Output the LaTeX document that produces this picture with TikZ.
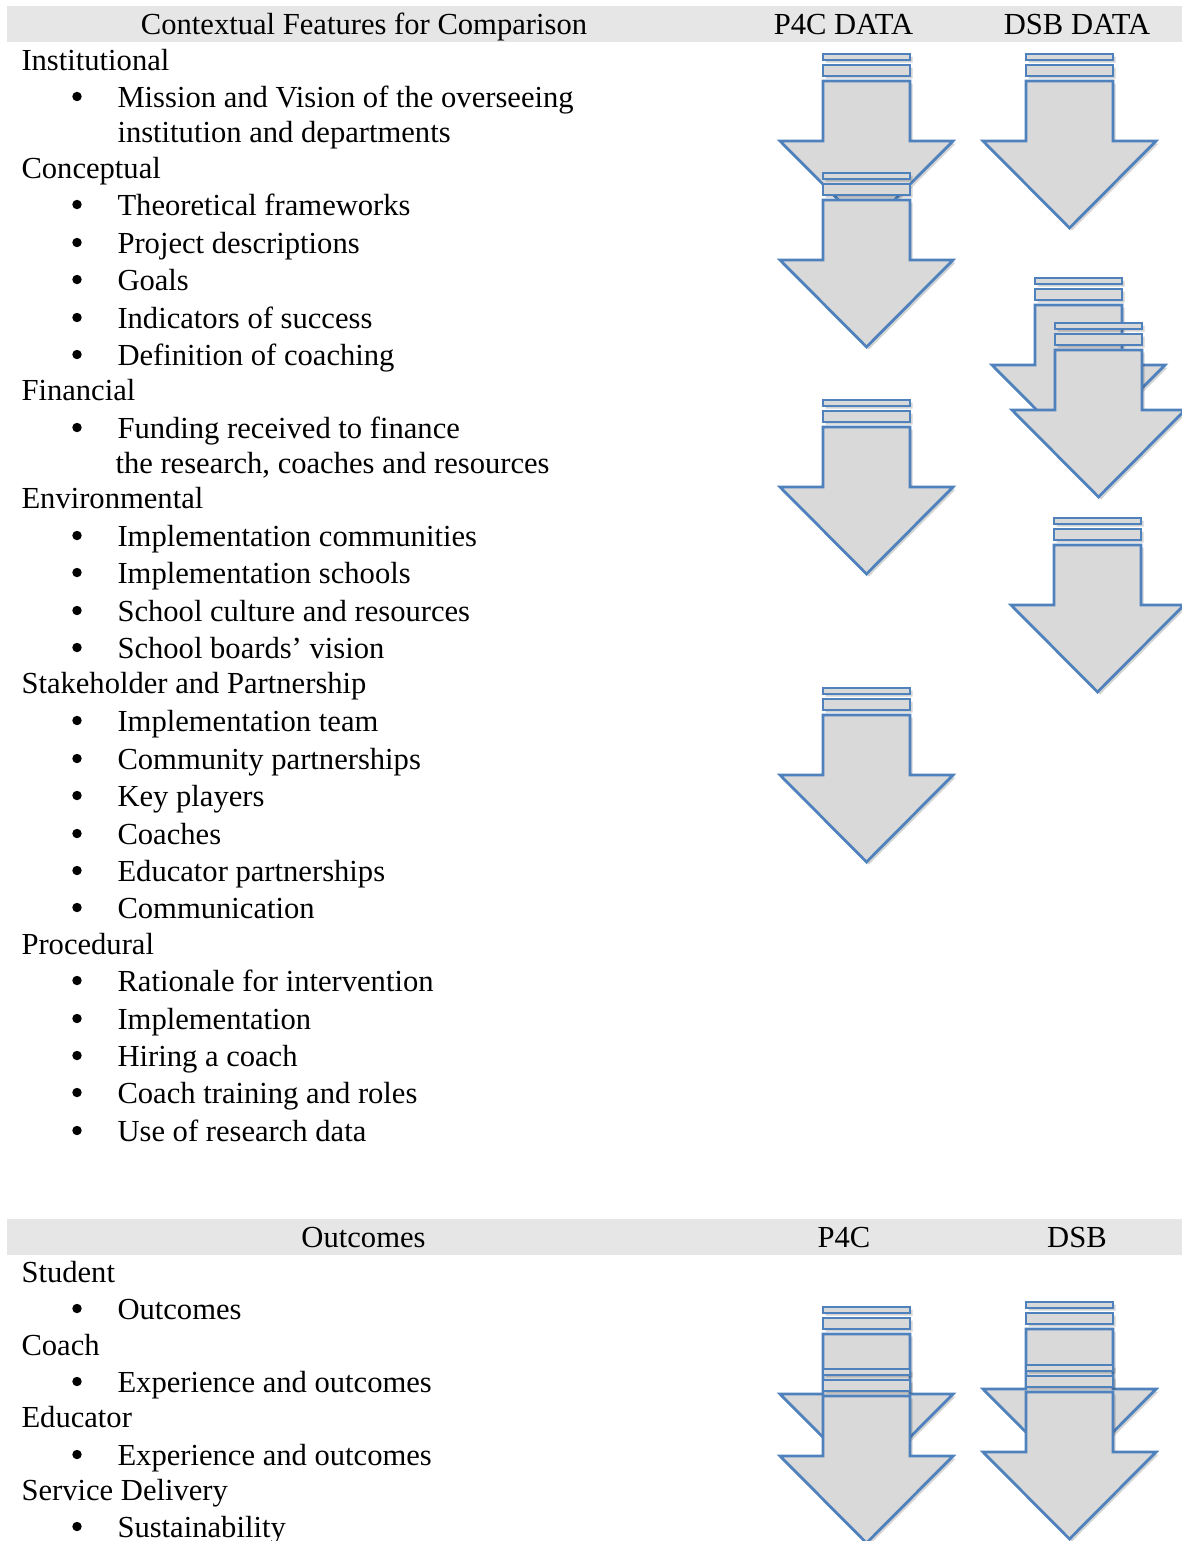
\documentclass[tikz,border=0pt]{standalone}
\usepackage{fontspec}
\setmainfont{Liberation Serif}
\definecolor{bandgray}{HTML}{E6E6E6}
\definecolor{arrowfill}{HTML}{D9D9D9}
\definecolor{arrowline}{HTML}{4F81BD}

\tikzset{
  txt/.style={inner sep=0pt, font=\fontsize{12}{14}\selectfont},
  heading/.style={txt, anchor=base west},
  item/.style={txt, anchor=base west},
  colhead/.style={txt, anchor=base},
  dot/.style={circle, fill=black, inner sep=0pt, minimum size=3.7pt},
  band/.style={fill=bandgray},
  stripe/.style={fill=arrowfill, draw=arrowline, line width=1.1pt, line join=miter},
  arrowshadow/.style={fill=black, fill opacity=0.17},
  % striped down arrow: two thin bands above a block arrow
  stripedarrow/.pic={
    \begin{scope}[shift={(2.5,2.5)}]
      \path[arrowshadow] (-43.5,0) rectangle (43.5,6)
                         (-43.5,11) rectangle (43.5,22)
                         (-43.5,27) -- (43.5,27) -- (43.5,87) -- (86.5,87) -- (0,174)
                         -- (-86.5,87) -- (-43.5,87) -- cycle;
    \end{scope}
    \path[stripe] (-43.5,0) rectangle (43.5,6);
    \path[stripe] (-43.5,11) rectangle (43.5,22);
    \path[stripe] (-43.5,27) -- (43.5,27) -- (43.5,87) -- (86.5,87) -- (0,174)
                  -- (-86.5,87) -- (-43.5,87) -- cycle;
  }
}

\begin{document}
\begin{tikzpicture}[x=0.3922pt, y=-0.3922pt]
\useasboundingbox (0,0) rectangle (1182,1541);
\clip (0,0) rectangle (1182,1541);

% header bands
\path[band] (7,6) rectangle (1182,42);
\path[band] (7,1219) rectangle (1182,1255);

\begin{scope}[shift={(0,1)}]
% column headings
\node[colhead] (h1) at (364,33) {Contextual Features for Comparison};
\node[colhead] (h2) at (843.5,33) {P4C DATA};
\node[colhead] (h3) at (1077,33) {DSB DATA};
\node[colhead] (h4) at (363.5,1246) {Outcomes};
\node[colhead] (h5) at (844,1246) {P4C};
\node[colhead] (h6) at (1077,1246) {DSB};

% contextual features
\node[heading] (c1) at (21,69) {Institutional};
\node[dot] (d1) at (77,95.5) {};
\node[item] (i1) at (117,106) {Mission and Vision of the overseeing};
\node[item] (i1b) at (117,141) {institution and departments};

\node[heading] (c2) at (21,177) {Conceptual};
\node[dot] (d2) at (77,203.5) {};
\node[item] (i2) at (117,214) {Theoretical frameworks};
\node[dot] (d3) at (77,241.5) {};
\node[item] (i3) at (117,252) {Project descriptions};
\node[dot] (d4) at (77,278.5) {};
\node[item] (i4) at (117,289) {Goals};
\node[dot] (d5) at (77,316.5) {};
\node[item] (i5) at (117,327) {Indicators of success};
\node[dot] (d6) at (77,353.5) {};
\node[item] (i6) at (117,364) {Definition of coaching};

\node[heading] (c3) at (21,399) {Financial};
\node[dot] (d7) at (77,426.5) {};
\node[item] (i7) at (117,437) {Funding received to finance};
\node[item] (i7b) at (115,472) {the research, coaches and resources};

\node[heading] (c4) at (21,507) {Environmental};
\node[dot] (d8) at (77,534.5) {};
\node[item] (i8) at (117,545) {Implementation communities};
\node[dot] (d9) at (77,571.5) {};
\node[item] (i9) at (117,582) {Implementation schools};
\node[dot] (d10) at (77,609.5) {};
\node[item] (i10) at (117,620) {School culture and resources};
\node[dot] (d11) at (77,646.5) {};
\node[item] (i11) at (117,657) {School boards’ vision};

\node[heading] (c5) at (21,692) {Stakeholder and Partnership};
\node[dot] (d12) at (77,719.5) {};
\node[item] (i12) at (117,730) {Implementation team};
\node[dot] (d13) at (77,757.5) {};
\node[item] (i13) at (117,768) {Community partnerships};
\node[dot] (d14) at (77,794.5) {};
\node[item] (i14) at (117,805) {Key players};
\node[dot] (d15) at (77,832.5) {};
\node[item] (i15) at (117,843) {Coaches};
\node[dot] (d16) at (77,869.5) {};
\node[item] (i16) at (117,880) {Educator partnerships};
\node[dot] (d17) at (77,906.5) {};
\node[item] (i17) at (117,917) {Communication};

\node[heading] (c6) at (21,953) {Procedural};
\node[dot] (d18) at (77,979.5) {};
\node[item] (i18) at (117,990) {Rationale for intervention};
\node[dot] (d19) at (77,1017.5) {};
\node[item] (i19) at (117,1028) {Implementation};
\node[dot] (d20) at (77,1054.5) {};
\node[item] (i20) at (117,1065) {Hiring a coach};
\node[dot] (d21) at (77,1091.5) {};
\node[item] (i21) at (117,1102) {Coach training and roles};
\node[dot] (d22) at (77,1129.5) {};
\node[item] (i22) at (117,1140) {Use of research data};

% outcomes
\node[heading] (o1) at (21,1281) {Student};
\node[dot] (e1) at (77,1307.5) {};
\node[item] (j1) at (117,1318) {Outcomes};
\node[heading] (o2) at (21,1354) {Coach};
\node[dot] (e2) at (77,1380.5) {};
\node[item] (j2) at (117,1391) {Experience and outcomes};
\node[heading] (o3) at (21,1426) {Educator};
\node[dot] (e3) at (77,1453.5) {};
\node[item] (j3) at (117,1464) {Experience and outcomes};
\node[heading] (o4) at (21,1499) {Service Delivery};
\node[dot] (e4) at (77,1525.5) {};
\node[item] (j4) at (117,1536) {Sustainability};
\end{scope}

% P4C data arrows
\pic (pa1) at (866.5,54) {stripedarrow};
\pic (pa2) at (866.5,173) {stripedarrow};
\pic (pa3) at (866.5,400) {stripedarrow};
\pic (pa4) at (866.5,688) {stripedarrow};

% DSB data arrows
\pic (da1) at (1069.5,54) {stripedarrow};
\pic (da2) at (1078.5,278) {stripedarrow};
\pic (da3) at (1098.5,323) {stripedarrow};
\pic (da4) at (1097.5,518) {stripedarrow};

% outcome arrows
\pic (pb1) at (866.5,1307) {stripedarrow};
\pic (pb2) at (866.5,1369) {stripedarrow};
\pic (db1) at (1069.5,1302) {stripedarrow};
\pic (db2) at (1069.5,1365) {stripedarrow};
\end{tikzpicture}
\end{document}
